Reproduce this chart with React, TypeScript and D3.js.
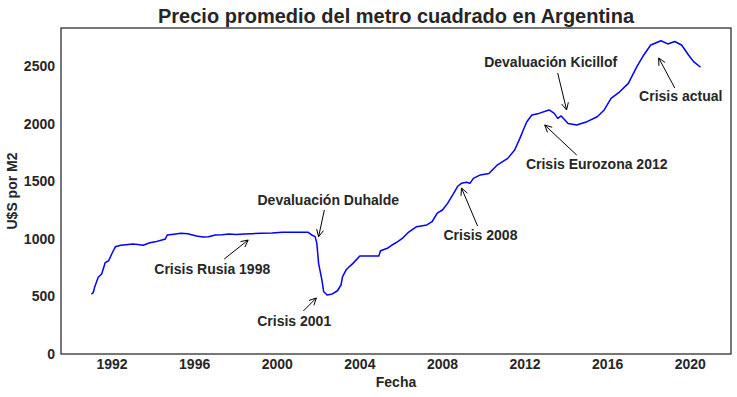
import React from 'react';
import * as d3 from 'd3';

// Serie mensual, U$S por m2
const fechas = [
  '1991-01', '1991-02', '1991-03', '1991-05', '1991-07', '1991-09', '1991-11',
  '1992-01', '1992-03', '1992-06', '1992-09', '1993-01', '1993-04', '1993-07', '1993-11',
  '1994-02', '1994-06', '1994-08', '1994-09', '1995-01', '1995-05', '1995-09',
  '1996-02', '1996-06', '1996-09', '1997-01', '1997-05', '1997-09', '1998-01', '1998-06', '1998-10',
  '1999-04', '1999-10', '2000-04', '2000-10', '2001-04', '2001-07', '2001-09', '2001-11', '2001-12',
  '2002-01', '2002-03', '2002-04', '2002-06', '2002-09', '2002-12',
  '2003-02', '2003-03', '2003-05', '2003-07', '2003-09', '2004-01', '2004-06', '2004-12',
  '2005-01', '2005-05', '2005-08', '2005-11', '2006-02', '2006-05', '2006-10',
  '2007-04', '2007-07', '2007-10', '2008-01', '2008-04', '2008-07', '2008-10', '2008-12',
  '2009-03', '2009-05', '2009-07', '2009-11', '2010-04', '2010-09', '2011-03', '2011-07', '2011-10', '2011-12',
  '2012-02', '2012-05', '2012-09', '2013-03', '2013-06', '2013-08', '2013-10', '2014-02', '2014-07',
  '2015-01', '2015-07', '2015-11', '2016-03', '2016-08', '2017-01', '2017-06', '2017-10',
  '2018-02', '2018-08', '2018-12', '2019-04', '2019-08', '2019-12', '2020-03', '2020-07',
];
const precios = [
  520, 533, 585, 667, 696, 794, 811,
  876, 933, 945, 950, 957, 952, 946, 968,
  975, 991, 1000, 1035, 1042, 1049, 1045,
  1026, 1018, 1020, 1035, 1036, 1043, 1040, 1043, 1046,
  1049, 1052, 1058, 1058, 1058, 1058, 1035, 1020, 962,
  788, 643, 542, 513, 522, 550,
  600, 672, 730, 760, 788, 852, 852, 852,
  898, 919, 950, 977, 1010, 1055, 1107,
  1122, 1150, 1225, 1252, 1310, 1383, 1461, 1484,
  1493, 1484, 1527, 1557, 1570, 1645, 1701, 1774, 1875, 1948,
  2020, 2078, 2092, 2122, 2092, 2049, 2070, 2005, 1991,
  2020, 2063, 2122, 2223, 2280, 2353, 2498, 2600,
  2687, 2724, 2696, 2717, 2687, 2600, 2542, 2493,
];

const yTicks = [0, 500, 1000, 1500, 2000, 2500];

// anotaciones: texto, posición del texto, inicio de flecha y punta (año decimal, valor)
const notasTexto = ['Devaluación Duhalde', 'Crisis Rusia 1998', 'Crisis 2001', 'Crisis 2008',
  'Devaluación Kicillof', 'Crisis Eurozona 2012', 'Crisis actual'];
const notasPos = [[2002.47, 1339], [1996.85, 739], [2000.82, 287], [2009.84, 1035],
  [2013.24, 2539], [2015.47, 1652], [2019.54, 2243]];
const notasDesde = [[2002.28, 1252], [1997.43, 826], [2001.26, 374], [2009.70, 1113],
  [2013.58, 2443], [2014.50, 1730], [2019.25, 2313]];
const notasPunta = [[2002.0, 1020], [1998.59, 991], [2001.89, 487], [2008.92, 1443],
  [2014.01, 2122], [2012.95, 1991], [2018.47, 2574]];

const W = 737;
const H = 397;
const margin = { top: 28, right: 6, bottom: 43, left: 61 };
const FONT = '"Liberation Sans", Arial, sans-serif';
const TXT = '#262626';

const parse = d3.timeParse('%Y-%m');
const data = fechas.map((f, i) => ({ fecha: parse(f) as Date, valor: precios[i] }));

const decimalToDate = (y: number) => {
  const yr = Math.floor(y);
  const start = new Date(yr, 0, 1).getTime();
  const end = new Date(yr + 1, 0, 1).getTime();
  return new Date(start + (y - yr) * (end - start));
};
const toDecimal = (d: Date) => {
  const yr = d.getFullYear();
  const start = new Date(yr, 0, 1).getTime();
  const end = new Date(yr + 1, 0, 1).getTime();
  return yr + (d.getTime() - start) / (end - start);
};

export default function App() {
  const innerW = W - margin.left - margin.right;
  const innerH = H - margin.top - margin.bottom;

  const [d0, d1] = d3.extent(data, (d) => d.fecha) as [Date, Date];
  const a0 = toDecimal(d0);
  const a1 = toDecimal(d1);
  const pad = (a1 - a0) * 0.05;
  const x = d3.scaleTime()
    .domain([decimalToDate(a0 - pad), decimalToDate(a1 + pad)])
    .range([0, innerW]);

  const vMin = d3.min(precios) as number;
  const vMax = d3.max(precios) as number;
  const y = d3.scaleLinear()
    .domain([0, vMax + (vMax - vMin) * 0.05])
    .range([innerH, 0]);

  const line = d3.line<{ fecha: Date; valor: number }>()
    .x((d) => x(d.fecha))
    .y((d) => y(d.valor));

  const xTicks = x.ticks(d3.timeYear.every(4) as d3.TimeInterval);
  const px = (p: number[]) => [x(decimalToDate(p[0])), y(p[1])];

  return (
    <svg width={W} height={H} style={{ position: 'absolute', left: 0, top: 0, background: '#fff' }}
      fontFamily={FONT}>
      <text x={margin.left + innerW / 2} y={16} textAnchor="middle" dominantBaseline="central"
        fontSize={20} fontWeight="bold" fill={TXT}>
        Precio promedio del metro cuadrado en Argentina
      </text>
      <g transform={`translate(${margin.left},${margin.top})`}>
        <path d={line(data) || ''} fill="none" stroke="#0000ff" strokeWidth={1.5} strokeLinejoin="round" />

        {notasTexto.map((t, i) => {
          const [tx, ty] = px(notasPos[i]);
          const [sx, sy] = px(notasDesde[i]);
          const [ex, ey] = px(notasPunta[i]);
          const ang = Math.atan2(ey - sy, ex - sx);
          const hl = 7;
          const hw = 3.5;
          const bx = ex - hl * Math.cos(ang);
          const by = ey - hl * Math.sin(ang);
          const nx = -Math.sin(ang);
          const ny = Math.cos(ang);
          return (
            <g key={t}>
              <line x1={sx} y1={sy} x2={ex} y2={ey} stroke="#000" strokeWidth={1} />
              <polyline points={`${bx + nx * hw},${by + ny * hw} ${ex},${ey} ${bx - nx * hw},${by - ny * hw}`}
                fill="none" stroke="#000" strokeWidth={1} />
              <text x={tx} y={ty} textAnchor="middle" dominantBaseline="central" fontSize={14}
                fontWeight="bold" fill={TXT}>{t}</text>
            </g>
          );
        })}

        {/* ejes */}
        {yTicks.map((v) => (
          <text key={v} x={-6} y={y(v)} textAnchor="end" dominantBaseline="central" fontSize={14}
            fontWeight="bold" fill={TXT}>{v}</text>
        ))}
        {xTicks.map((t) => (
          <text key={t.getTime()} x={x(t)} y={innerH + 5} textAnchor="middle" dominantBaseline="hanging"
            fontSize={14} fontWeight="bold" fill={TXT}>{d3.timeFormat('%Y')(t)}</text>
        ))}
        <rect x={0} y={0} width={innerW} height={innerH} fill="none" stroke={TXT} strokeWidth={1.25} />

        <text x={innerW / 2} y={innerH + 28} textAnchor="middle" dominantBaseline="central"
          fontSize={14} fontWeight="bold" fill={TXT}>Fecha</text>
        <text transform={`translate(${12 - margin.left},${innerH / 2}) rotate(-90)`} textAnchor="middle"
          dominantBaseline="central" fontSize={14} fontWeight="bold" fill={TXT}>U$S por M2</text>
      </g>
    </svg>
  );
}
